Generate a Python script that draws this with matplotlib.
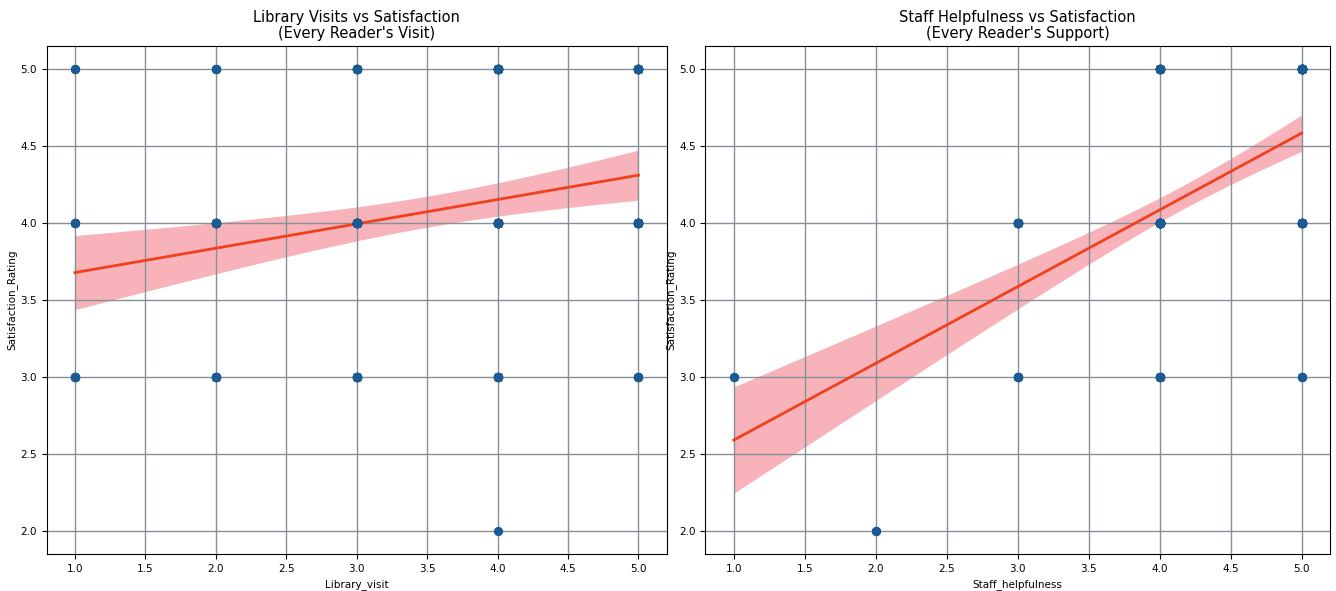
"""
Library survey: visits and staff helpfulness against satisfaction,
scatter with a fitted line and its 95% band, one panel each.
"""

import numpy as np
import matplotlib.pyplot as plt

# counts of readers per (x, rating) cell
rating_levels = [2, 3, 4, 5]

visit_levels = [1, 2, 3, 4, 5]
visit_counts = [  # rows: visit level, cols: rating 2,3,4,5
    [0, 6, 4, 2],
    [0, 8, 13, 4],
    [0, 12, 26, 12],
    [1, 10, 28, 21],
    [0, 5, 21, 19],
]

staff_levels = [1, 2, 3, 4, 5]
staff_counts = [
    [0, 2, 0, 0],
    [2, 0, 0, 0],
    [0, 6, 13, 0],
    [0, 10, 81, 19],
    [0, 3, 19, 38],
]

panels = [
    ("Library_visit", visit_levels, visit_counts,
     "Library Visits vs Satisfaction\n(Every Reader's Visit)"),
    ("Staff_helpfulness", staff_levels, staff_counts,
     "Staff Helpfulness vs Satisfaction\n(Every Reader's Support)"),
]

POINT = "#1b5a92"
LINE = "#f0401e"
BAND = "#f7b3b9"
GRID = "#868f97"


def expand(levels, counts):
    xs, ys = [], []
    for xv, row in zip(levels, counts):
        for yv, n in zip(rating_levels, row):
            xs += [xv] * n
            ys += [yv] * n
    return np.array(xs, float), np.array(ys, float)


def fit_band(x, y, grid):
    n = len(x)
    slope, icpt = np.polyfit(x, y, 1)
    resid = y - (icpt + slope * x)
    s = np.sqrt(np.sum(resid**2) / (n - 2))
    sxx = np.sum((x - x.mean())**2)
    se = s * np.sqrt(1 / n + (grid - x.mean())**2 / sxx)
    yhat = icpt + slope * grid
    return yhat, yhat - 1.97 * se, yhat + 1.97 * se


fig = plt.figure(figsize=(13.36, 5.91), dpi=100)
boxes = [[0.035, 0.0626, 0.464, 0.8594], [0.528, 0.0626, 0.4675, 0.8594]]

for box, (xlab, levels, counts, title) in zip(boxes, panels):
    ax = fig.add_axes(box)
    x, y = expand(levels, counts)
    gx = np.linspace(x.min(), x.max(), 100)
    yhat, lo, hi = fit_band(x, y, gx)

    ax.fill_between(gx, lo, hi, color=BAND, lw=0, zorder=1)
    ax.plot(gx, yhat, color=LINE, lw=2, zorder=3)
    ax.scatter(x, y, s=32, color=POINT, zorder=4)
    ax.grid(True, color=GRID, lw=1)
    for gl in ax.get_xgridlines() + ax.get_ygridlines():
        gl.set_zorder(2)

    ax.set_xlim(0.8, 5.2)
    ax.set_ylim(1.85, 5.15)
    ax.set_xticks(np.arange(1.0, 5.01, 0.5))
    ax.set_yticks(np.arange(2.0, 5.01, 0.5))
    ax.tick_params(labelsize=7.5)
    ax.set_xlabel(xlab, fontsize=7.5)
    ax.set_ylabel("Satisfaction_Rating", fontsize=7.5, labelpad=2)
    ax.set_title(title, fontsize=10.5, linespacing=1.1)

fig.savefig("out.png", dpi=100)
